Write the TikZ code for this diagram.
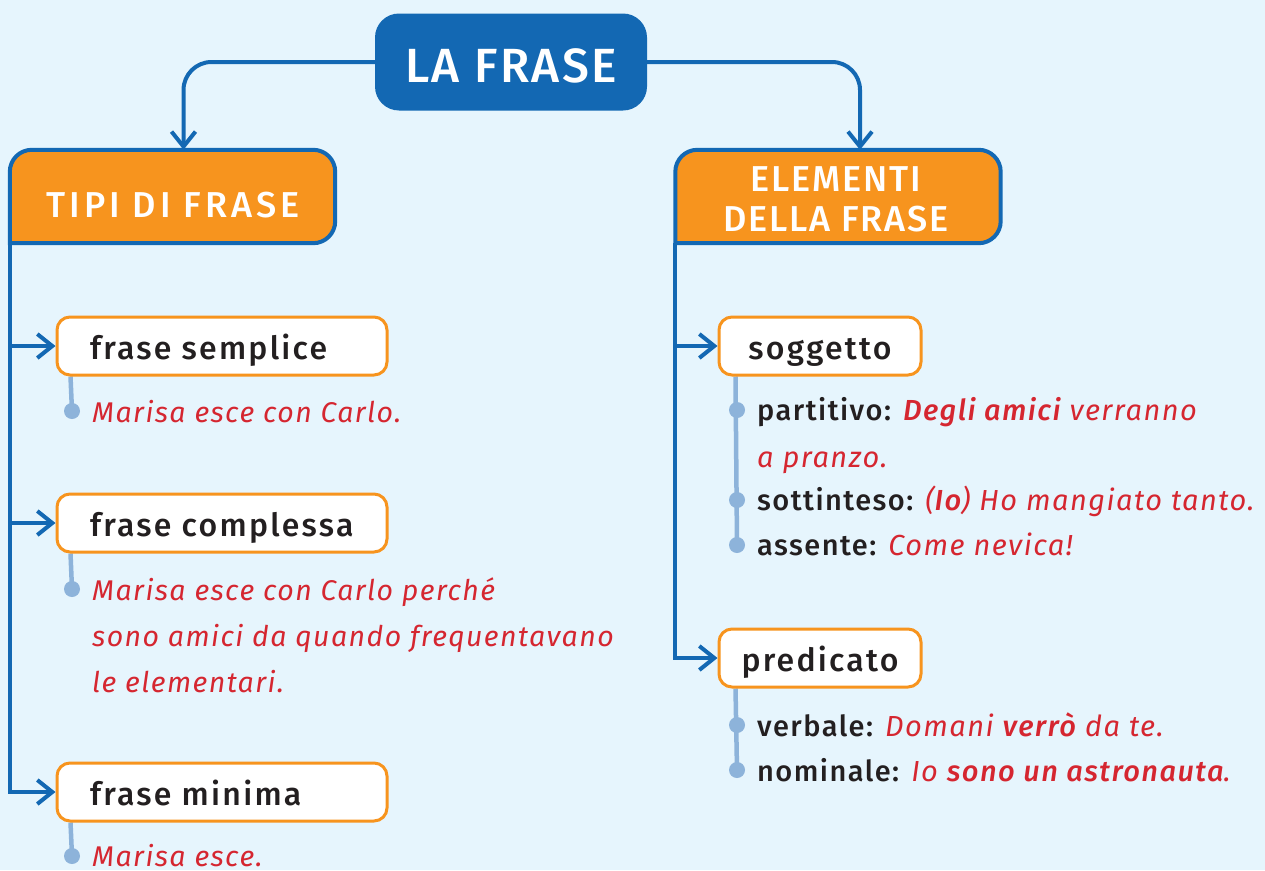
\documentclass[tikz,border=0pt]{standalone}
\usepackage{fontspec}
\setmainfont{Fira Sans}[LetterSpace=5, BoldFont={Fira Sans Medium}, BoldItalicFont={Fira Sans Medium Italic}]
\usetikzlibrary{arrows.meta}
\definecolor{bgc}{RGB}{230,245,253}
\definecolor{dblue}{RGB}{19,104,179}
\definecolor{orng}{RGB}{247,148,30}
\definecolor{lblue}{RGB}{141,179,218}
\definecolor{redt}{RGB}{213,38,48}
\definecolor{ink}{RGB}{35,31,32}
\pgfdeclarelayer{bglayer}
\pgfdeclarelayer{midlayer}
\pgfsetlayers{bglayer,midlayer,main}
\newcommand{\lb}[1]{{\color{ink}\bfseries #1}}
\newcommand{\rd}[1]{{\color{redt}\itshape #1}}
\tikzset{
  conn/.style={draw=dblue, line width=4pt, -{Straight Barb[length=15pt,width=24pt]}},
  hdrbox/.style={rectangle, rounded corners=24pt, fill=dblue, text=white,
    minimum width=272pt, minimum height=97pt, text height=41pt, text depth=0pt,
    font=\fontsize{48}{50}\selectfont\bfseries},
  catbox/.style={rectangle, minimum width=325pt, minimum height=93pt, inner sep=0pt},
  catline/.style={draw=dblue, line width=4pt, fill=orng, line cap=rect},
  cattext/.style={anchor=base, inner sep=0pt, text=white, font=\fontsize{36}{40}\selectfont\bfseries},
  item/.style={rectangle, rounded corners=13pt, draw=orng, line width=3pt, fill=white,
    minimum height=58pt, text=ink, text height=33pt, text depth=6pt,
    font=\fontsize{32}{34}\selectfont\bfseries\addfontfeature{LetterSpace=7}},
  leftitem/.style={item, inner xsep=33pt},
  rightitem/.style={item, minimum width=202pt, inner xsep=0pt},
  stub/.style={draw=lblue, line width=4.5pt},
  dot/.style={circle, fill=lblue, inner sep=0pt, minimum size=16pt},
  ex/.style={anchor=base west, inner sep=0pt, text=redt, font=\fontsize{28.5}{46}\selectfont\itshape},
  rex/.style={anchor=base west, inner sep=0pt, font=\fontsize{29}{40}\selectfont},
}
\begin{document}
\begin{tikzpicture}[x=1pt, y=-1pt]
\useasboundingbox (0,0) rectangle (1265,870);
\begin{pgfonlayer}{bglayer}
  \fill[bgc] (0,0) rectangle (1265,870);
\end{pgfonlayer}

% title
\node[hdrbox] (hdr) at (511,62) {LA FRASE};

% category boxes
\node[catbox] (tipi) at (172.5,196.5) {};
\node[catbox] (elem) at (838,196.5) {};
\begin{pgfonlayer}{midlayer}
  \path[catline] (tipi.south west) [rounded corners=22pt] -- (tipi.north west) -- (tipi.north east) -- (tipi.south east) -- (tipi.south west);
  \path[catline] (elem.south west) [rounded corners=22pt] -- (elem.north west) -- (elem.north east) -- (elem.south east) -- (elem.south west);
\end{pgfonlayer}
\node[cattext] (tipit) at (173,217) {\addfontfeature{LetterSpace=11}TIPI DI FRASE};
\node[cattext] (elemt1) at (836,191) {ELEMENTI};
\node[cattext] (elemt2) at (836,231) {DELLA FRASE};

\coordinate (tipiin) at ([xshift=11pt]tipi.north);
\coordinate (elemin) at ([xshift=22pt]elem.north);
\draw[conn, rounded corners=28pt] (hdr.west) -| (tipiin);
\draw[conn, rounded corners=28pt] (hdr.east) -| (elemin);

% left items
\node[leftitem] (semplice) at (222,346) {\makebox[264pt][l]{frase semplice}};
\node[leftitem] (complessa) at (222,523) {\makebox[264pt][l]{frase complessa}};
\node[leftitem] (minima) at (222,792) {\makebox[264pt][l]{frase minima}};

\draw[conn] (tipi.south west) |- (minima.west);
\draw[conn] (tipi.south west |- semplice.west) -- (semplice.west);
\draw[conn] (tipi.south west |- complessa.west) -- (complessa.west);

% left examples
\node[dot] (d1) at (72,411) {};
\node[dot] (d2) at (72,589) {};
\node[dot] (d3) at (72,856) {};
\begin{pgfonlayer}{midlayer}
  \draw[stub] ([xshift=15pt]semplice.south west) -- (d1.center);
  \draw[stub] ([xshift=15pt]complessa.south west) -- (d2.center);
  \draw[stub] ([xshift=15pt]minima.south west) -- (d3.center);
\end{pgfonlayer}
\node[ex] (e1) at (92,422) {Marisa esce con Carlo.};
\node[ex] (e2a) at (92,600) {Marisa esce con Carlo perché};
\node[ex] (e2b) at (92,646) {sono amici da quando frequentavano};
\node[ex] (e2c) at (92,692) {le elementari.};
\node[ex] (e3) at (92,866) {Marisa esce.};

% right items
\node[rightitem] (soggetto) at (820,346) {soggetto};
\node[rightitem] (predicato) at (820,658) {predicato};
\draw[conn] (elem.south west) |- (predicato.west);
\draw[conn] (elem.south west |- soggetto.west) -- (soggetto.west);

\node[dot] (s1) at (737,410) {};
\node[dot] (s2) at (737,500) {};
\node[dot] (s3) at (737,545) {};
\node[dot] (p1) at (737,725) {};
\node[dot] (p2) at (737,770) {};
\begin{pgfonlayer}{midlayer}
  \draw[stub] ([xshift=18pt]soggetto.south west) -- (s3.center);
  \draw[stub] ([xshift=18pt]predicato.south west) -- (p2.center);
\end{pgfonlayer}
\node[rex] (r1) at (757,420) {\lb{partitivo:} \rd{\textbf{Degli amici} verranno}};
\node[rex] (r1b) at (757,467) {\rd{a pranzo.}};
\node[rex] (r2) at (757,510) {\lb{sottinteso:} \rd{(\textbf{Io}) Ho mangiato tanto.}};
\node[rex] (r3) at (757,555) {\lb{assente:} \rd{Come nevica!}};
\node[rex] (r4) at (757,736) {\lb{verbale:} \rd{Domani \textbf{verrò} da te.}};
\node[rex] (r5) at (757,781) {\lb{nominale:} \rd{Io \textbf{sono un astronauta}.}};
\end{tikzpicture}
\end{document}
